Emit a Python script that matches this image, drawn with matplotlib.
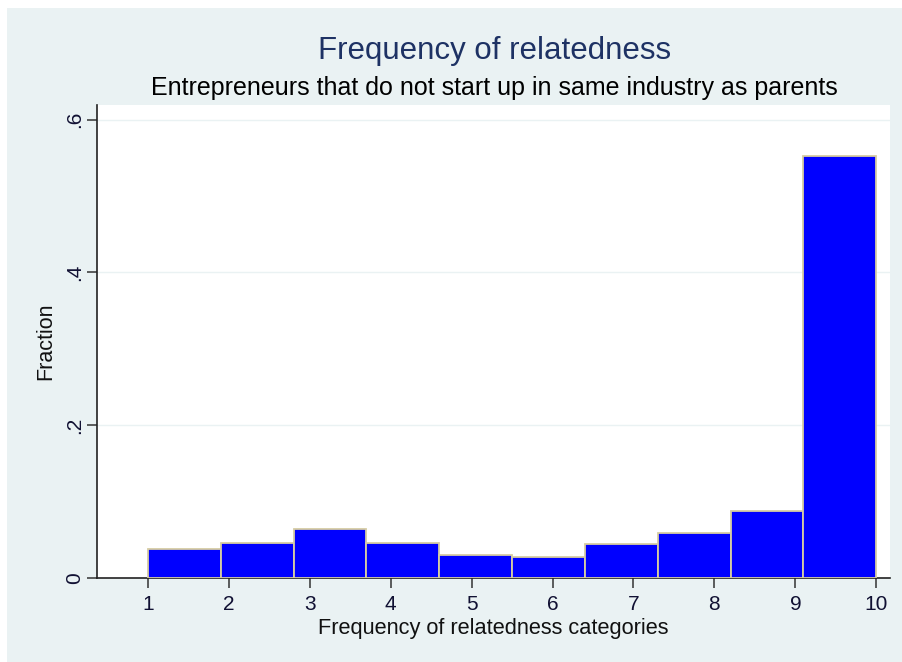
import matplotlib.pyplot as plt
from matplotlib.patches import Rectangle
import numpy as np

plt.rcParams['font.family'] = ['Liberation Sans', 'DejaVu Sans']

# histogram of relatedness categories, 10 bins from 1 to 10
bin_left = [1.0, 1.9, 2.8, 3.7, 4.6, 5.5, 6.4, 7.3, 8.2, 9.1]
bin_width = 0.9
fraction = [0.038, 0.0465, 0.0644, 0.0465, 0.0305, 0.0282, 0.0448, 0.0592, 0.0884, 0.552]

x_ticks = [1, 2, 3, 4, 5, 6, 7, 8, 9, 10]
y_ticks = [0, 0.2, 0.4, 0.6]
y_tick_labels = ["0", ".2", ".4", ".6"]

BG = "#eaf2f3"
NAVY = "#1e3264"

fig = plt.figure(figsize=(9.02, 6.62), dpi=100, facecolor="white")
# light blue-grey graph region, thin white margin on top/left
fig.patches.append(Rectangle((7 / 902, 0), 1, 1 - 8 / 662, transform=fig.transFigure,
                             facecolor=BG, edgecolor="none", zorder=0))

ax = fig.add_axes([97 / 902, 1 - 578.3 / 662, (890 - 97) / 902, (578.3 - 105) / 662])
ax.set_zorder(2)
ax.set_facecolor("white")

ax.bar(bin_left, fraction, width=bin_width, align="edge",
       color="#0000ff", edgecolor="#d6cca3", linewidth=1.3, zorder=3)

ax.set_xlim(0.37, 10.17)
ax.set_ylim(0, 0.619)

ax.set_xticks(x_ticks)
ax.set_xticklabels([str(v) for v in x_ticks])
ax.set_yticks(y_ticks)
ax.set_yticklabels(y_tick_labels, rotation=90, va="center")

for y in y_ticks[1:]:
    ax.axhline(y, color=BG, linewidth=1, zorder=1)

for side in ["top", "right"]:
    ax.spines[side].set_visible(False)
for side in ["left", "bottom"]:
    ax.spines[side].set_color("#222222")
    ax.spines[side].set_linewidth(1.2)

ax.tick_params(axis="both", length=7, width=1.1, color="#333333",
               labelsize=15, labelcolor="#111133")
ax.tick_params(axis="x", pad=5)
ax.tick_params(axis="y", pad=2)

ax.set_xlabel("Frequency of relatedness categories", fontsize=15.7, color="#111111", labelpad=3)
ax.set_ylabel("Fraction", fontsize=15.5, color="#111111", labelpad=7)

fig.text(495 / 902, 1 - 51 / 662, "Frequency of relatedness", ha="center", va="center",
         fontsize=22.5, color=NAVY)
fig.text(494 / 902, 1 - 87.5 / 662, "Entrepreneurs that do not start up in same industry as parents",
         ha="center", va="center", fontsize=18, color="black")

fig.savefig("out.png", dpi=100, facecolor=fig.get_facecolor())
